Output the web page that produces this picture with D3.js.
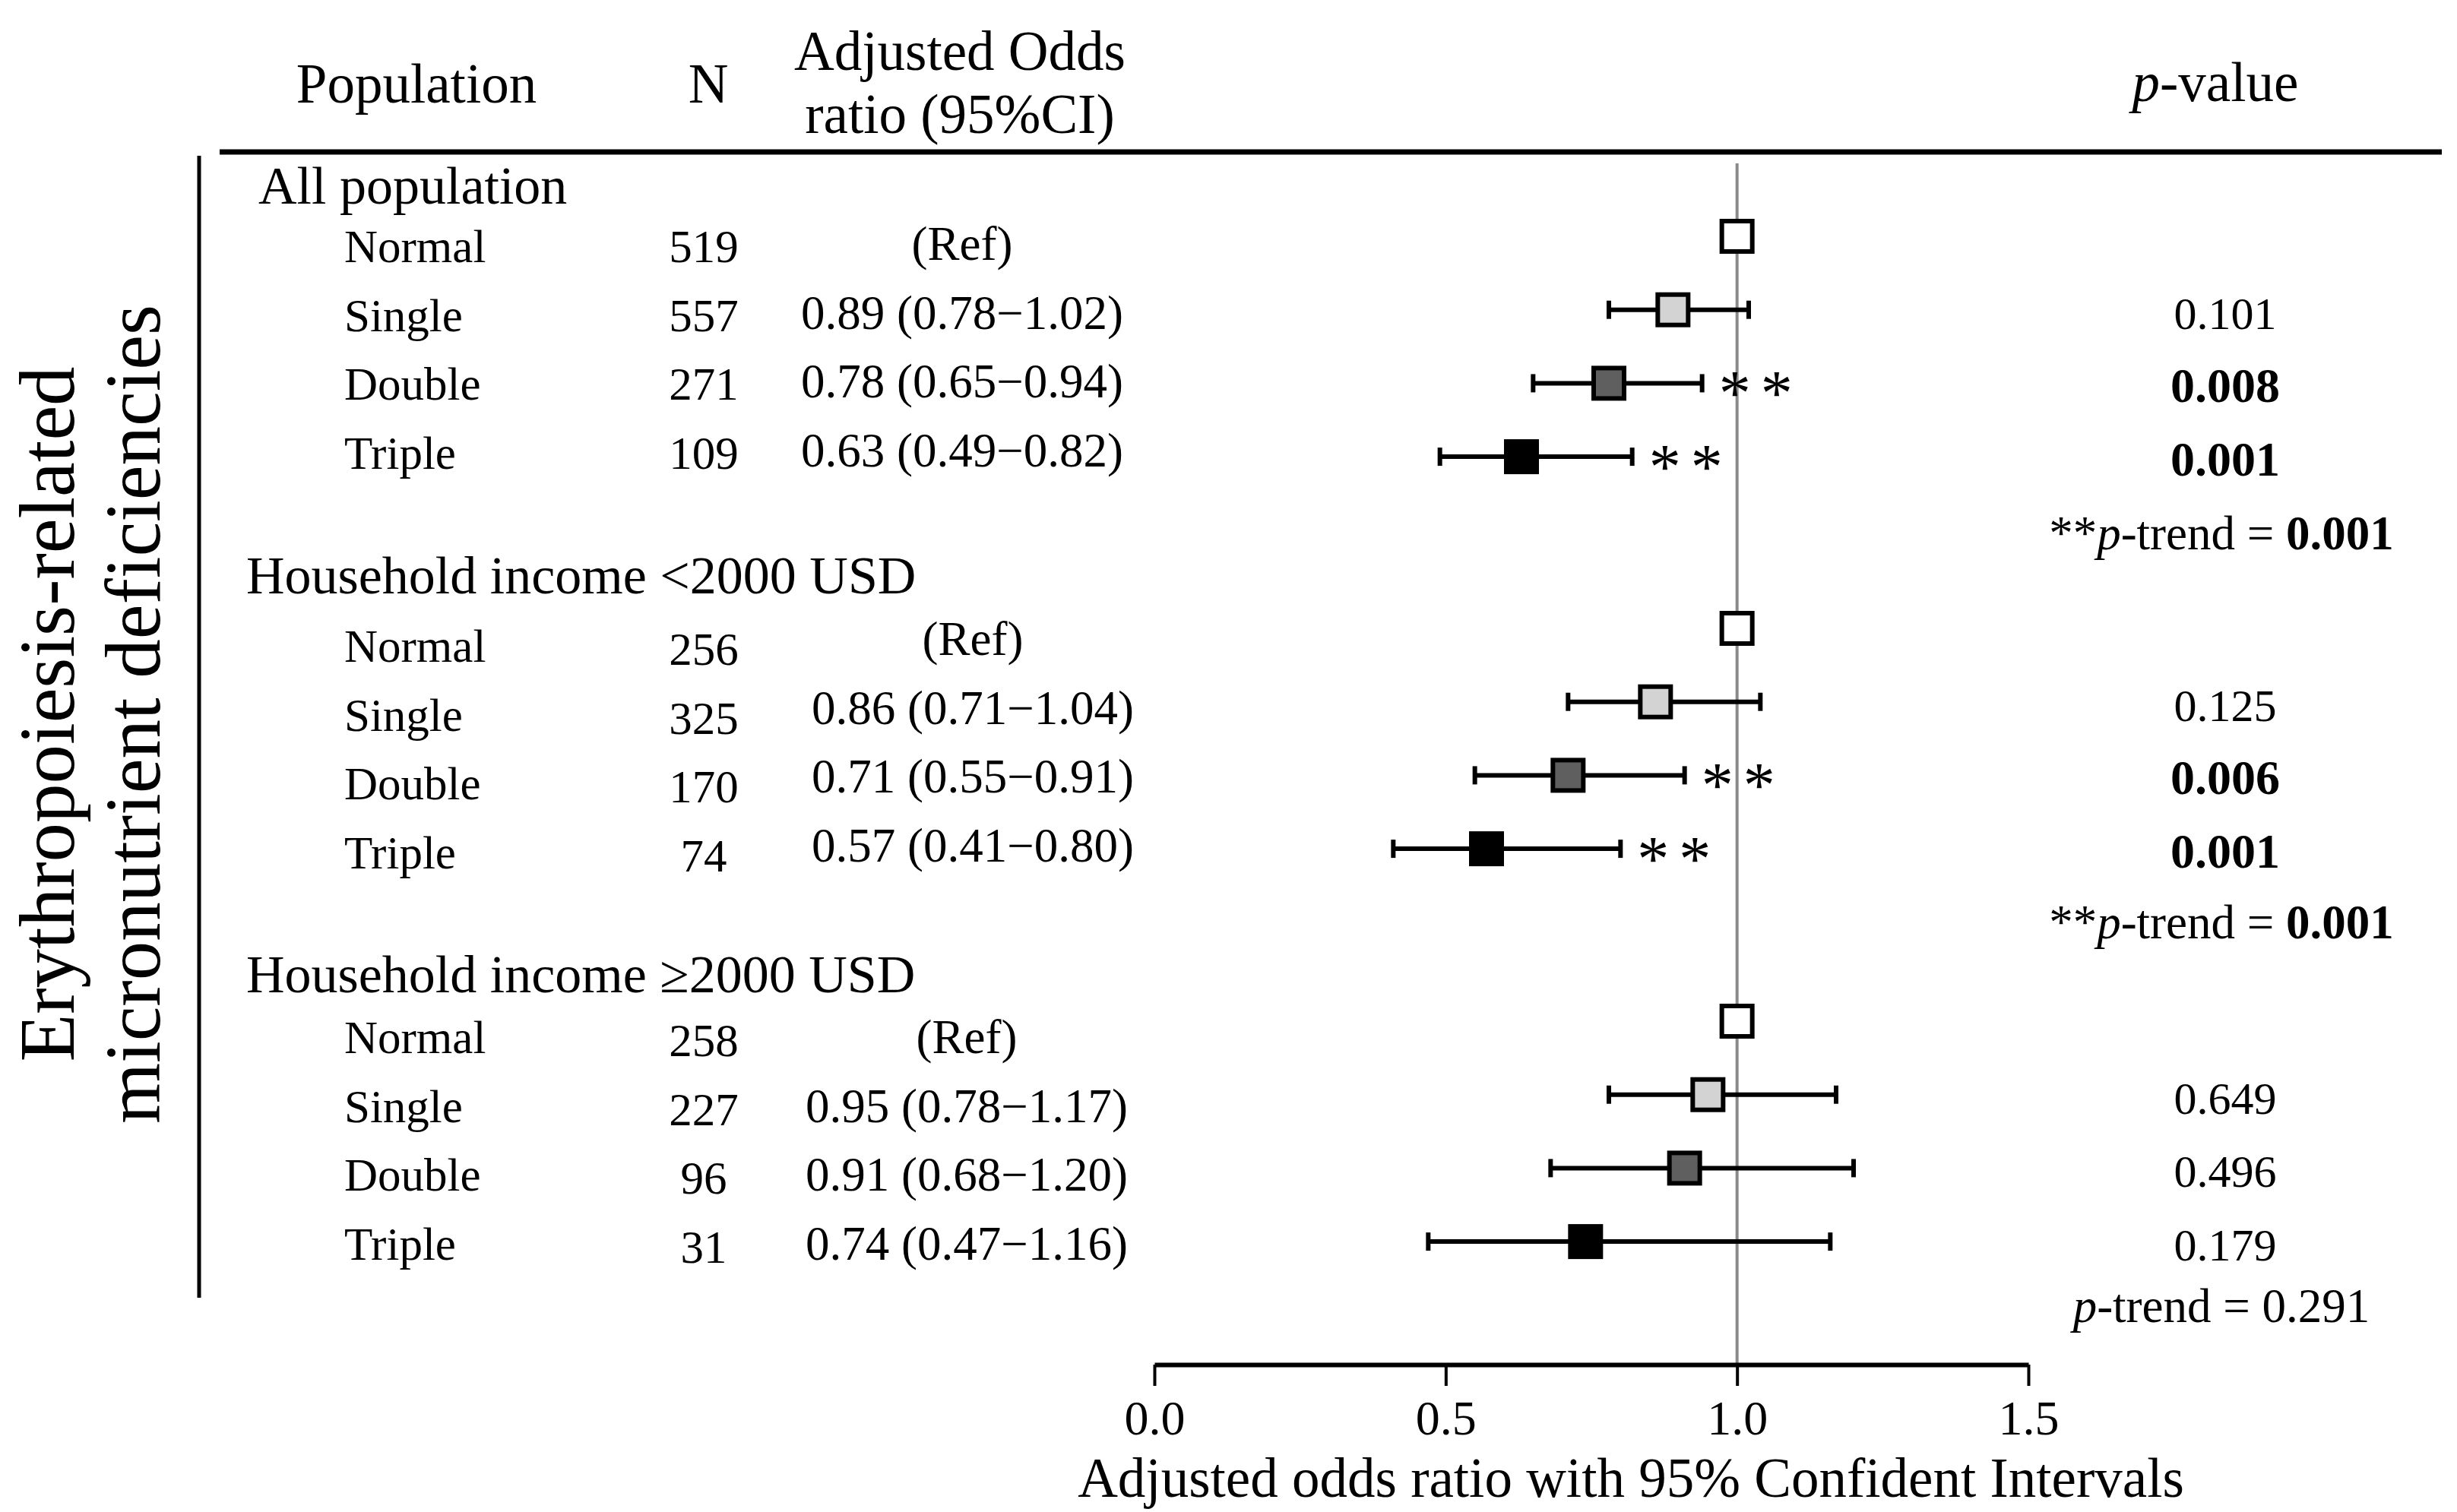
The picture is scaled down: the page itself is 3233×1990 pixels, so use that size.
<!DOCTYPE html>
<html>
<head>
<meta charset="utf-8">
<script src="https://cdn.jsdelivr.net/npm/d3@7"></script>
<style>
  body { margin: 0; background: #fff; }
  svg { display: block; font-family: "Liberation Serif", "Times New Roman", serif; }
</style>
</head>
<body>
<svg id="chart" width="3233" height="1990"></svg>
<script>
// values
const groupLabels = ['All population', 'Household income <2000 USD', 'Household income \u22652000 USD']
const categories = ['Normal', 'Single', 'Double', 'Triple']
const nAll = [519, 557, 271, 109]
const nLow = [256, 325, 170, 74]
const nHigh = [258, 227, 96, 31]
const orAll = [1.0, 0.89, 0.78, 0.63]
const loAll = [null, 0.78, 0.65, 0.49]
const hiAll = [null, 1.02, 0.94, 0.82]
const orLow = [1.0, 0.86, 0.71, 0.57]
const loLow = [null, 0.71, 0.55, 0.41]
const hiLow = [null, 1.04, 0.91, 0.80]
const orHigh = [1.0, 0.95, 0.91, 0.74]
const loHigh = [null, 0.78, 0.68, 0.47]
const hiHigh = [null, 1.17, 1.20, 1.16]
const pAll = [null, '0.101', '0.008', '0.001']
const pLow = [null, '0.125', '0.006', '0.001']
const pHigh = [null, '0.649', '0.496', '0.179']
const pTrend = ['0.001', '0.001', '0.291']
const xTicks = [0, 0.5, 1.0, 1.5]

const groups = [
  { n: nAll, or: orAll, lo: loAll, hi: hiAll, p: pAll },
  { n: nLow, or: orLow, lo: loLow, hi: hiLow, p: pLow },
  { n: nHigh, or: orHigh, lo: loHigh, hi: hiHigh, p: pHigh }
]
const fills = ['#ffffff', '#d3d3d3', '#5f5f5f', '#000000']

const rows = []
groups.forEach((g, gi) => {
  categories.forEach((c, ci) => {
    rows.push({ gi, ci, label: c, n: g.n[ci], or: g.or[ci], lo: g.lo[ci], hi: g.hi[ci], p: g.p[ci] })
  })
})
const isSig = (p) => p !== null && +p < 0.05

// layout
const svg = d3.select('#chart')
const x = d3.scaleLinear().domain([0, 1.5]).range([1519, 2669])
const axisY = 1796
const step = d3.scaleLinear().domain([0, 1]).range([0, 96.7])
const plotTop = [311, 827, 1344]
const plotY = (gi, r) => plotTop[gi] + step(r)
const tableStep = d3.scaleLinear().domain([0, 1]).range([0, 90.7])
const tableTop = [345, 871, 1386]
const tableY = (gi, r) => tableTop[gi] + tableStep(r)
const headerY = [268, 781, 1306]
const nDy = [0, 4, 4]
const orDy = [-3, -9, 0]
const orX = [1266, 1280, 1272]
const trendDy = [0, -4, -16]
const pX = 2928

// column headers
const head = svg.append('g').attr('font-size', 73)
head.append('text').attr('x', 548).attr('y', 135).attr('text-anchor', 'middle').text('Population')
head.append('text').attr('x', 932).attr('y', 135).attr('text-anchor', 'middle').text('N')
head.append('text').attr('x', 1263).attr('y', 92).attr('text-anchor', 'middle').text('Adjusted Odds')
head.append('text').attr('x', 1263).attr('y', 175).attr('text-anchor', 'middle').text('ratio (95%CI)')
const pv = head.append('text').attr('x', 2915).attr('y', 133).attr('text-anchor', 'middle')
pv.append('tspan').attr('font-style', 'italic').text('p')
pv.append('tspan').text('-value')

// frame lines
svg.append('line').attr('x1', 289).attr('x2', 3213).attr('y1', 200).attr('y2', 200)
  .attr('stroke', '#000').attr('stroke-width', 7)
svg.append('line').attr('x1', 262).attr('x2', 262).attr('y1', 205).attr('y2', 1708)
  .attr('stroke', '#000').attr('stroke-width', 5)

// rotated side title
const side = svg.append('g').attr('font-size', 103).attr('text-anchor', 'middle')
side.append('text').attr('transform', 'translate(97,940) rotate(-90)').text('Erythropoiesis-related')
side.append('text').attr('transform', 'translate(210,940) rotate(-90)').text('micronutrient deficiencies')

// group headers
svg.append('g').selectAll('text').data(groupLabels).join('text')
  .attr('x', (d, i) => (i === 0 ? 340 : 324))
  .attr('y', (d, i) => headerY[i])
  .attr('font-size', 70)
  .text((d) => d)

// table rows
const table = svg.append('g').attr('font-size', 61)
table.selectAll('.cat').data(rows).join('text').attr('class', 'cat')
  .attr('x', 453).attr('y', (d) => tableY(d.gi, d.ci)).text((d) => d.label)
table.selectAll('.n').data(rows).join('text').attr('class', 'n')
  .attr('x', 926).attr('y', (d) => tableY(d.gi, d.ci) + nDy[d.gi])
  .attr('text-anchor', 'middle').text((d) => d.n)
table.selectAll('.or').data(rows).join('text').attr('class', 'or')
  .attr('x', (d) => orX[d.gi]).attr('y', (d) => tableY(d.gi, d.ci) + orDy[d.gi])
  .attr('text-anchor', 'middle').attr('font-size', 63)
  .text((d) => (d.lo === null ? '(Ref)'
    : `${d.or.toFixed(2)} (${d.lo.toFixed(2)}\u2212${d.hi.toFixed(2)})`))

// reference line at OR = 1
svg.append('line').attr('x1', x(1)).attr('x2', x(1)).attr('y1', 215).attr('y2', axisY)
  .attr('stroke', '#8a8a8a').attr('stroke-width', 4)

// confidence intervals
const ci = rows.filter((d) => d.lo !== null)
const plot = svg.append('g')
plot.selectAll('.ci').data(ci).join('line').attr('class', 'ci')
  .attr('x1', (d) => x(d.lo)).attr('x2', (d) => x(d.hi))
  .attr('y1', (d) => plotY(d.gi, d.ci)).attr('y2', (d) => plotY(d.gi, d.ci))
  .attr('stroke', '#000').attr('stroke-width', 6)
plot.selectAll('.cap').data(ci.flatMap((d) => [{ d, v: d.lo }, { d, v: d.hi }])).join('line')
  .attr('class', 'cap')
  .attr('x1', (e) => x(e.v)).attr('x2', (e) => x(e.v))
  .attr('y1', (e) => plotY(e.d.gi, e.d.ci) - 12).attr('y2', (e) => plotY(e.d.gi, e.d.ci) + 12)
  .attr('stroke', '#000').attr('stroke-width', 6)

// squares
const sq = 40
plot.selectAll('.pt').data(rows).join('rect').attr('class', 'pt')
  .attr('x', (d) => x(d.or) - sq / 2).attr('y', (d) => plotY(d.gi, d.ci) - sq / 2)
  .attr('width', sq).attr('height', sq)
  .attr('fill', (d) => fills[d.ci]).attr('stroke', '#000').attr('stroke-width', 6)

// significance stars
plot.selectAll('.star').data(ci.filter((d) => isSig(d.p))).join('text').attr('class', 'star')
  .attr('x', (d) => x(d.hi) + 22).attr('y', (d) => plotY(d.gi, d.ci) + 42)
  .attr('font-size', 84).attr('letter-spacing', -4).text('* *')

// p-values
const pcol = svg.append('g').attr('text-anchor', 'middle')
pcol.selectAll('.pv').data(ci).join('text').attr('class', 'pv')
  .attr('x', pX).attr('y', (d) => plotY(d.gi, d.ci) + 25)
  .attr('font-size', (d) => (isSig(d.p) ? 64 : 60))
  .attr('font-weight', (d) => (isSig(d.p) ? 'bold' : 'normal'))
  .text((d) => d.p)

const trend = pcol.selectAll('.trend').data(pTrend).join('text').attr('class', 'trend')
  .attr('x', pX - 5).attr('y', (d, i) => plotY(i, 4) + 25 + trendDy[i]).attr('font-size', 63)
trend.each(function (d) {
  const t = d3.select(this)
  const sig = +d < 0.05
  if (sig) t.append('tspan').text('**')
  t.append('tspan').attr('font-style', 'italic').text('p')
  t.append('tspan').text('-trend = ')
  t.append('tspan').attr('font-weight', sig ? 'bold' : 'normal').text(d)
})

// x axis
const axis = svg.append('g').attr('transform', `translate(0,${axisY})`)
  .call(d3.axisBottom(x).tickValues(xTicks).tickFormat(d3.format('.1f')).tickSize(28).tickSizeOuter(0))
axis.attr('font-family', null).attr('font-size', null)
axis.select('.domain').attr('stroke', '#000').attr('stroke-width', 6)
axis.selectAll('.tick line').attr('stroke', '#000').attr('stroke-width', 4)
axis.selectAll('.tick text').attr('fill', '#000').attr('font-size', 64)
  .attr('y', 92).attr('dy', null)

svg.append('text').attr('x', 2146).attr('y', 1970).attr('text-anchor', 'middle')
  .attr('font-size', 73).text('Adjusted odds ratio with 95% Confident Intervals')
</script>
</body>
</html>
